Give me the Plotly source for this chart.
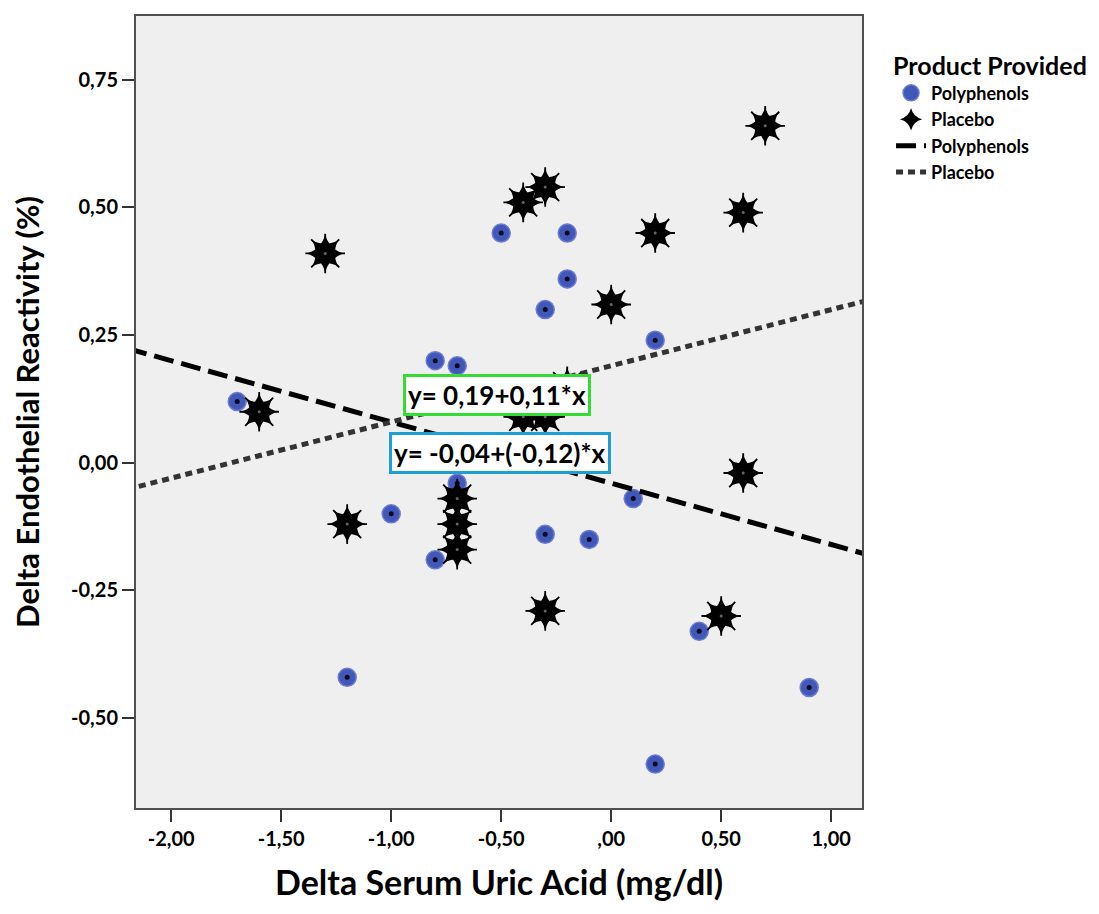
import plotly.graph_objects as go

# Polyphenols group (blue circles)
poly_x = [-1.7, -1.2, -1.0, -0.8, -0.7, -0.8, -0.7, -0.5, -0.2, -0.2, -0.3, -0.3, -0.1, 0.1, 0.2, 0.4, 0.9, 0.2]
poly_y = [0.12, -0.42, -0.10, 0.20, 0.19, -0.19, -0.04, 0.45, 0.45, 0.36, 0.30, -0.14, -0.15, -0.07, 0.24, -0.33, -0.44, -0.59]

# Placebo group (black stars)
plac_x = [0.7, 0.6, 0.2, -0.3, -0.4, -1.3, 0.0, -1.6, -1.2, -0.7, -0.7, -0.7, 0.6, -0.3, 0.5, -0.4, -0.3, -0.2]
plac_y = [0.66, 0.49, 0.45, 0.54, 0.51, 0.41, 0.31, 0.10, -0.12, -0.07, -0.12, -0.17, -0.02, -0.29, -0.30, 0.09, 0.09, 0.15]

# Fit lines (end points)
fit_poly_x = [-2.2, 1.2]
fit_poly_y = [0.224, -0.184]
fit_plac_x = [-2.2, 1.2]
fit_plac_y = [-0.052, 0.322]

x_tickvals = [-2.0, -1.5, -1.0, -0.5, 0.0, 0.5, 1.0]
x_ticktext = ["-2,00", "-1,50", "-1,00", "-0,50", ",00", "0,50", "1,00"]
y_tickvals = [-0.5, -0.25, 0.0, 0.25, 0.5, 0.75]
y_ticktext = ["-0,50", "-0,25", "0,00", "0,25", "0,50", "0,75"]

FONT = "Lato"
BLUE = "#4258b8"

fig = go.Figure()

fig.add_trace(go.Scatter(
    x=poly_x, y=poly_y, mode="markers", name="Polyphenols", legendgroup="a",
    marker=dict(symbol="circle", size=18, color=BLUE, line=dict(width=1.5, color="#6a7bd0")),
))
fig.add_trace(go.Scatter(
    x=poly_x, y=poly_y, mode="markers", showlegend=False, hoverinfo="skip", legendgroup="a",
    marker=dict(symbol="circle", size=5, color="#0a0a20"),
))
fig.add_trace(go.Scatter(
    x=plac_x, y=plac_y, mode="markers", name="Placebo", legendgroup="b",
    marker=dict(symbol="star-diamond", size=27, color="black", line=dict(width=0)),
))
fig.add_trace(go.Scatter(
    x=plac_x, y=plac_y, mode="markers", showlegend=False, hoverinfo="skip", legendgroup="b",
    marker=dict(symbol="star-diamond", size=27, angle=45, color="black", line=dict(width=0)),
))
fig.add_trace(go.Scatter(
    x=plac_x, y=plac_y, mode="markers", showlegend=False, hoverinfo="skip", legendgroup="b",
    marker=dict(symbol="asterisk-open", size=33, color="black", line=dict(width=1.8, color="black")),
))
fig.add_trace(go.Scatter(
    x=plac_x, y=plac_y, mode="markers", showlegend=False, hoverinfo="skip", legendgroup="b",
    marker=dict(symbol="circle", size=3, color="#666666"),
))
fig.add_trace(go.Scatter(
    x=fit_poly_x, y=fit_poly_y, mode="lines", name="Polyphenols", legendgroup="c",
    line=dict(color="black", width=5, dash="20px,8px"),
))
fig.add_trace(go.Scatter(
    x=fit_plac_x, y=fit_plac_y, mode="lines", name="Placebo", legendgroup="d",
    line=dict(color="#333333", width=5, dash="7px,5px"),
))

fig.add_annotation(
    x=-0.52, y=0.133, xref="x", yref="y", text="<b>y= 0,19+0,11*x</b>", showarrow=False,
    font=dict(family=FONT, size=26, color="black"), bgcolor="white",
    bordercolor="#33dd33", borderwidth=3, borderpad=2,
)
fig.add_annotation(
    x=-0.505, y=0.02, xref="x", yref="y", text="<b>y= -0,04+(-0,12)*x</b>", showarrow=False,
    font=dict(family=FONT, size=26, color="black"), bgcolor="white",
    bordercolor="#1e9fd4", borderwidth=3, borderpad=2,
)

fig.update_layout(
    width=1099, height=914,
    margin=dict(l=128, r=245, t=6, b=114),
    paper_bgcolor="white",
    plot_bgcolor="#efefef",
    font=dict(family=FONT, color="black"),
    showlegend=True,
    legend=dict(
        title=dict(text="<b>Product Provided</b>", font=dict(family=FONT, size=25)),
        font=dict(family=FONT, size=18, color="black", weight="bold"),
        x=1.04, y=0.967, xanchor="left", yanchor="top",
        bgcolor="rgba(0,0,0,0)", tracegroupgap=0, itemwidth=30,
    ),
    xaxis=dict(
        range=[-2.16, 1.14], tickvals=x_tickvals, ticktext=x_ticktext,
        ticks="outside", ticklen=12, tickwidth=2, tickcolor="#333333",
        showgrid=False, zeroline=False, showline=True, linecolor="#505050", linewidth=2, mirror=True,
        tickfont=dict(family=FONT, size=20, color="black", weight="bold"),
        title=dict(text="<b>Delta Serum Uric Acid (mg/dl)</b>", font=dict(family=FONT, size=34), standoff=22),
    ),
    yaxis=dict(
        range=[-0.676, 0.875], tickvals=y_tickvals, ticktext=y_ticktext,
        ticks="outside", ticklen=12, tickwidth=2, tickcolor="#333333",
        showgrid=False, zeroline=False, showline=True, linecolor="#505050", linewidth=2, mirror=True,
        tickfont=dict(family=FONT, size=20, color="black", weight="bold"),
        title=dict(text="<b>Delta Endothelial Reactivity (%)</b>", font=dict(family=FONT, size=31), standoff=24),
    ),
)

fig.write_html("out.html")
